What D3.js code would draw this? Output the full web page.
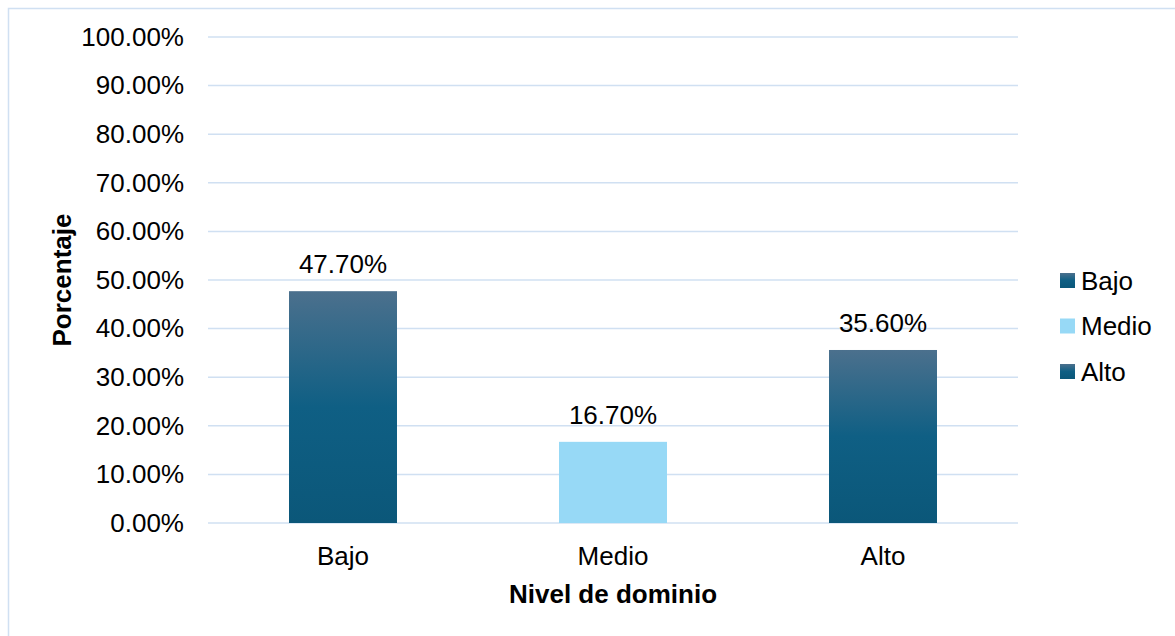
<!DOCTYPE html>
<html>
<head>
<meta charset="utf-8">
<script src="https://cdn.jsdelivr.net/npm/d3@7"></script>
<style>
  body { margin: 0; background: #fff; }
  text { font-family: "Liberation Sans", Arial, sans-serif; fill: #000; }
</style>
</head>
<body>
<div id="chart"></div>
<script>
// data
var categories = ['Bajo', 'Medio', 'Alto'];
var values = [0.477, 0.167, 0.356];
var yTicks = [0, 0.1, 0.2, 0.3, 0.4, 0.5, 0.6, 0.7, 0.8, 0.9, 1.0];
var legendItems = ['Bajo', 'Medio', 'Alto'];

var W = 1175, H = 636;
var fontSize = 26;
var margin = { top: 37, right: 157, bottom: 113, left: 208 },
    width = W - margin.left - margin.right,
    height = H - margin.top - margin.bottom;

var svg = d3.select('#chart')
    .append('svg')
    .attr('width', W)
    .attr('height', H);

// gradients
var defs = svg.append('defs');
var gradDark = defs.append('linearGradient')
    .attr('id', 'gradDark')
    .attr('x1', 0).attr('y1', 0).attr('x2', 0).attr('y2', 1);
gradDark.append('stop').attr('offset', '0%').attr('stop-color', '#4b708d');
gradDark.append('stop').attr('offset', '50%').attr('stop-color', '#0f5f84');
gradDark.append('stop').attr('offset', '100%').attr('stop-color', '#0b5779');

var fillFor = d => d === 'Medio' ? '#97d9f6' : 'url(#gradDark)';

// outer border
svg.append('rect')
    .attr('x', 8.5).attr('y', 8.5)
    .attr('width', W + 20).attr('height', H + 20)
    .attr('fill', 'none')
    .attr('stroke', '#d0e0f2')
    .attr('stroke-width', 1.5);

var plot = svg.append('g')
    .attr('transform', `translate(${margin.left}, ${margin.top})`);

var x = d3.scaleBand()
    .domain(categories)
    .range([0, width])
    .paddingInner(0.6)
    .paddingOuter(0.3);

var y = d3.scaleLinear()
    .domain([0, 1])
    .range([height, 0]);

// grid lines
plot.append('g')
    .selectAll('line')
    .data(yTicks)
    .enter()
    .append('line')
    .attr('x1', 0)
    .attr('x2', width)
    .attr('y1', d => y(d))
    .attr('y2', d => y(d))
    .attr('stroke', '#d0e0f2')
    .attr('stroke-width', 1.5);

// y axis
var yAxis = d3.axisLeft(y)
    .tickValues(yTicks)
    .tickFormat(d3.format('.2%'))
    .tickSize(0)
    .tickPadding(24);

plot.append('g')
    .attr('class', 'axis y')
    .call(yAxis)
    .call(g => g.select('.domain').remove())
    .selectAll('text')
    .attr('font-size', fontSize)
    .attr('fill', '#000');

// x axis
var xAxis = d3.axisBottom(x)
    .tickSize(0)
    .tickPadding(24);

plot.append('g')
    .attr('class', 'axis x')
    .attr('transform', `translate(0, ${height})`)
    .call(xAxis)
    .call(g => g.select('.domain').remove())
    .selectAll('text')
    .attr('font-size', fontSize)
    .attr('fill', '#000');

// bars
plot.append('g')
    .selectAll('.bar')
    .data(categories)
    .enter()
    .append('rect')
    .attr('class', 'bar')
    .attr('x', d => x(d))
    .attr('y', (d, i) => y(values[i]))
    .attr('width', x.bandwidth())
    .attr('height', (d, i) => y(0) - y(values[i]))
    .attr('fill', fillFor);

// value labels
plot.append('g')
    .selectAll('.label')
    .data(categories)
    .enter()
    .append('text')
    .attr('class', 'label')
    .attr('x', d => x(d) + x.bandwidth() / 2)
    .attr('y', (d, i) => y(values[i]) - 18)
    .attr('text-anchor', 'middle')
    .attr('font-size', fontSize)
    .text((d, i) => d3.format('.2%')(values[i]));

// axis titles
svg.append('text')
    .attr('x', margin.left + width / 2)
    .attr('y', 603)
    .attr('text-anchor', 'middle')
    .attr('font-size', fontSize)
    .attr('font-weight', 'bold')
    .text('Nivel de dominio');

svg.append('text')
    .attr('transform', `translate(71, ${margin.top + height / 2}) rotate(-90)`)
    .attr('text-anchor', 'middle')
    .attr('font-size', fontSize)
    .attr('font-weight', 'bold')
    .text('Porcentaje');

// legend
var legend = svg.append('g')
    .attr('transform', 'translate(1060, 273)')
    .selectAll('g')
    .data(legendItems)
    .enter()
    .append('g')
    .attr('transform', (d, i) => `translate(0, ${i * 45.5})`);

legend.append('rect')
    .attr('width', 15)
    .attr('height', 15)
    .attr('fill', fillFor);

legend.append('text')
    .attr('x', 21)
    .attr('y', 7.5)
    .attr('dy', '0.35em')
    .attr('font-size', fontSize)
    .text(d => d);
</script>
</body>
</html>
